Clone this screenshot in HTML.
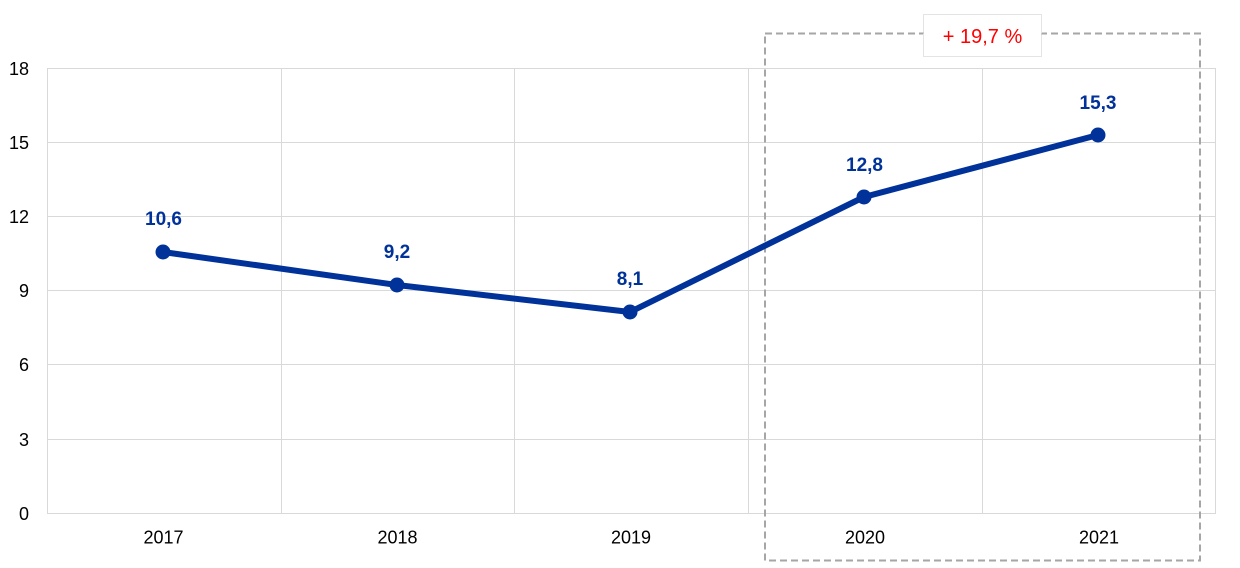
<!DOCTYPE html>
<html>
<head>
<meta charset="utf-8">
<style>
  html, body { margin: 0; padding: 0; background: #ffffff; }
  svg { display: block; }
  text { font-family: "Liberation Sans", Arial, sans-serif; }
</style>
</head>
<body>
<svg width="1240" height="568" viewBox="0 0 1240 568" xmlns="http://www.w3.org/2000/svg">
  <rect x="0" y="0" width="1240" height="568" fill="#ffffff"/>
  <!-- horizontal grid -->
  <g stroke="#d9d9d9" stroke-width="1" fill="none" shape-rendering="crispEdges">
    <line x1="47" y1="68.5" x2="1216" y2="68.5"/>
    <line x1="47" y1="142.5" x2="1216" y2="142.5"/>
    <line x1="47" y1="216.5" x2="1216" y2="216.5"/>
    <line x1="47" y1="290.5" x2="1216" y2="290.5"/>
    <line x1="47" y1="364.5" x2="1216" y2="364.5"/>
    <line x1="47" y1="439.5" x2="1216" y2="439.5"/>
    <line x1="47" y1="513.5" x2="1216" y2="513.5"/>
    <!-- vertical grid -->
    <line x1="47.5" y1="68" x2="47.5" y2="513"/>
    <line x1="281.5" y1="68" x2="281.5" y2="513"/>
    <line x1="514.5" y1="68" x2="514.5" y2="513"/>
    <line x1="748.5" y1="68" x2="748.5" y2="513"/>
    <line x1="982.5" y1="68" x2="982.5" y2="513"/>
    <line x1="1215.5" y1="68" x2="1215.5" y2="513"/>
  </g>

  <!-- y tick labels -->
  <g font-size="18" fill="#000000" text-anchor="end">
    <text x="29" y="75">18</text>
    <text x="29" y="149">15</text>
    <text x="29" y="223">12</text>
    <text x="29" y="297">9</text>
    <text x="29" y="371">6</text>
    <text x="29" y="446">3</text>
    <text x="29" y="520">0</text>
  </g>

  <!-- x tick labels -->
  <g font-size="18" fill="#000000" text-anchor="middle">
    <text x="163.5" y="543.5">2017</text>
    <text x="397.5" y="543.5">2018</text>
    <text x="631" y="543.5">2019</text>
    <text x="865" y="543.5">2020</text>
    <text x="1099" y="543.5">2021</text>
  </g>

  <!-- dashed highlight box -->
  <rect x="765" y="33.5" width="435" height="527" fill="none" stroke="#a6a6a6" stroke-width="2" stroke-dasharray="7 4"/>

  <!-- series line -->
  <polyline points="163,252 397,285 630,312 864,197 1098,135" fill="none" stroke="#003299" stroke-width="6" stroke-linejoin="round" stroke-linecap="round"/>
  <g fill="#003299">
    <circle cx="163" cy="252" r="7.5"/>
    <circle cx="397" cy="285" r="7.5"/>
    <circle cx="630" cy="312" r="7.5"/>
    <circle cx="864" cy="197" r="7.5"/>
    <circle cx="1098" cy="135" r="7.5"/>
  </g>

  <!-- data labels -->
  <g font-size="19" font-weight="bold" fill="#003299" text-anchor="middle">
    <text x="163.5" y="225">10,6</text>
    <text x="397" y="258">9,2</text>
    <text x="630" y="285">8,1</text>
    <text x="864.5" y="171">12,8</text>
    <text x="1098" y="109">15,3</text>
  </g>

  <!-- annotation box -->
  <rect x="923.5" y="14.5" width="118" height="42" fill="#ffffff" stroke="#c8c8c8" stroke-width="1" stroke-dasharray="1 1"/>
  <text x="982.5" y="43" font-size="20" fill="#ff0000" text-anchor="middle">+ 19,7 %</text>
</svg>
</body>
</html>
